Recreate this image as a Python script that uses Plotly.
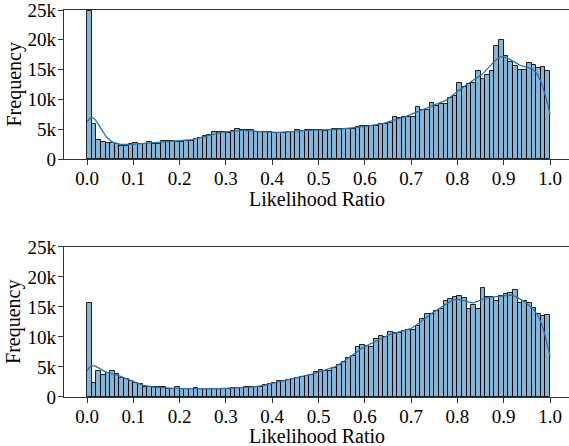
import numpy as np
import plotly.graph_objects as go

# Histogram bin edges (100 bins on [0, 1])
bin_edges = np.linspace(0.0, 1.0, 101)

# Frequencies (counts per bin)
top_counts = [24800, 5900, 3200, 2800, 2700, 2700, 2500, 2100, 2200, 2500,
              2700, 2500, 2600, 2800, 2600, 2600, 3000, 3100, 3100, 2800,
              2800, 3000, 3100, 3300, 3600, 3900, 4100, 4500, 4600, 4500,
              4400, 4700, 5100, 4900, 4900, 4800, 4500, 4500, 4500, 4600,
              4400, 4300, 4400, 4600, 4600, 4800, 4700, 4800, 4900, 4900,
              4800, 4700, 4900, 5000, 5000, 5100, 5100, 5100, 5300, 5600,
              5500, 5500, 5600, 5800, 5900, 6100, 7100, 6800, 7000, 7100,
              7100, 8800, 8200, 8300, 9400, 8900, 9200, 9200, 10300, 10600,
              12800, 12100, 12600, 12800, 14700, 13500, 14100, 14700, 19000, 19900,
              17200, 16300, 15600, 14900, 15000, 16100, 15700, 15300, 15400, 14800]

bottom_counts = [15700, 2300, 4400, 3700, 4000, 4400, 3900, 3200, 3000, 2600,
                 2400, 2100, 1700, 1600, 1600, 1600, 1600, 1400, 1300, 1600,
                 1400, 1300, 1300, 1500, 1300, 1300, 1400, 1300, 1400, 1400,
                 1400, 1500, 1500, 1500, 1600, 1600, 1700, 1700, 2000, 2200,
                 2300, 2600, 2700, 2800, 3000, 3100, 3300, 3500, 3600, 4100,
                 4500, 4400, 4400, 4800, 5400, 5900, 6500, 6800, 8300, 8600,
                 8500, 8300, 9700, 10200, 10000, 10800, 10600, 10700, 11000, 11100,
                 11200, 11900, 13000, 13900, 13900, 14300, 14600, 16000, 16400, 16600,
                 16800, 16500, 14600, 15400, 14600, 18200, 16600, 16600, 16000, 16900,
                 17100, 17400, 17800, 15700, 16000, 15600, 14800, 13900, 13500, 13700]

x_tick_vals = [0.0, 0.1, 0.2, 0.3, 0.4, 0.5, 0.6, 0.7, 0.8, 0.9, 1.0]
x_tick_text = ["0.0", "0.1", "0.2", "0.3", "0.4", "0.5", "0.6", "0.7", "0.8", "0.9", "1.0"]
y_tick_vals = [0, 5000, 10000, 15000, 20000, 25000]
y_tick_text = ["0", "5k", "10k", "15k", "20k", "25k"]

x_label = "Likelihood Ratio"
y_label = "Frequency"

BAR_FILL = "rgba(31,119,180,0.55)"
BAR_EDGE = "rgba(0,0,0,0.85)"
KDE_COLOR = "#1f77b4"
FONT = "Liberation Serif, Times New Roman, serif"


def kde_curve(counts, edges, npts=300):
    counts = np.asarray(counts, dtype=float)
    centers = 0.5 * (edges[:-1] + edges[1:])
    width = edges[1] - edges[0]
    n = counts.sum()
    mean = np.sum(counts * centers) / n
    std = np.sqrt(np.sum(counts * (centers - mean) ** 2) / n)
    bw = std * n ** (-1.0 / 5.0)
    grid = np.linspace(edges[0], edges[-1], npts)
    dens = np.zeros_like(grid)
    for c, w in zip(centers, counts):
        dens += w * np.exp(-0.5 * ((grid - c) / bw) ** 2)
    dens /= (n * bw * np.sqrt(2 * np.pi))
    return grid, dens * n * width


fig = go.Figure()
centers = 0.5 * (bin_edges[:-1] + bin_edges[1:])
bw = bin_edges[1] - bin_edges[0]

panels = [(top_counts, "x", "y"), (bottom_counts, "x2", "y2")]
for counts, xa, ya in panels:
    fig.add_trace(go.Bar(x=centers, y=counts, width=bw, xaxis=xa, yaxis=ya,
                         marker=dict(color=BAR_FILL, line=dict(color=BAR_EDGE, width=1)),
                         showlegend=False, hoverinfo="skip"))
    gx, gy = kde_curve(counts, bin_edges)
    fig.add_trace(go.Scatter(x=gx, y=gy, mode="lines", xaxis=xa, yaxis=ya,
                             line=dict(color=KDE_COLOR, width=1.3),
                             showlegend=False, hoverinfo="skip"))

xrange = [-0.0497, 1.041]
axis_common = dict(showline=True, linecolor="#333333", linewidth=1.2,
                   ticks="outside", ticklen=5, tickwidth=1.1, tickcolor="#333333",
                   showgrid=False, zeroline=False, automargin=False,
                   ticklabeloverflow="allow",
                   tickfont=dict(family=FONT, size=19, color="black"))

xax = dict(axis_common, range=xrange, tickvals=x_tick_vals, ticktext=x_tick_text,
           mirror=True, ticklabelstandoff=-3)
yax = dict(axis_common, range=[0, 25000.5], tickvals=y_tick_vals, ticktext=y_tick_text,
           ticklabelstandoff=-2)

title_font = dict(family=FONT, size=20, color="black")
annotations = []
for ypos in (0.5116, -0.1010):
    annotations.append(dict(text=x_label, xref="paper", yref="paper", x=0.5, y=ypos,
                            xanchor="center", yanchor="middle", showarrow=False,
                            font=title_font))
for ypos in (0.8075, 0.194):
    annotations.append(dict(text=y_label, xref="paper", yref="paper", x=-0.099, y=ypos,
                            xanchor="center", yanchor="middle", showarrow=False,
                            textangle=-90, font=title_font))

fig.update_layout(
    width=569, height=446,
    margin=dict(l=64, r=0, t=10, b=49, autoexpand=False),
    paper_bgcolor="white", plot_bgcolor="white",
    bargap=0,
    xaxis=dict(xax, domain=[0, 1], anchor="y"),
    yaxis=dict(yax, domain=[0.615, 1.0], anchor="x"),
    xaxis2=dict(xax, domain=[0, 1], anchor="y2"),
    yaxis2=dict(yax, domain=[0.0, 0.3876], anchor="x2"),
    annotations=annotations,
)

fig.write_html("out.html", config={"displayModeBar": False},
               post_script="document.body.style.margin='0';document.body.style.overflow='hidden';")
